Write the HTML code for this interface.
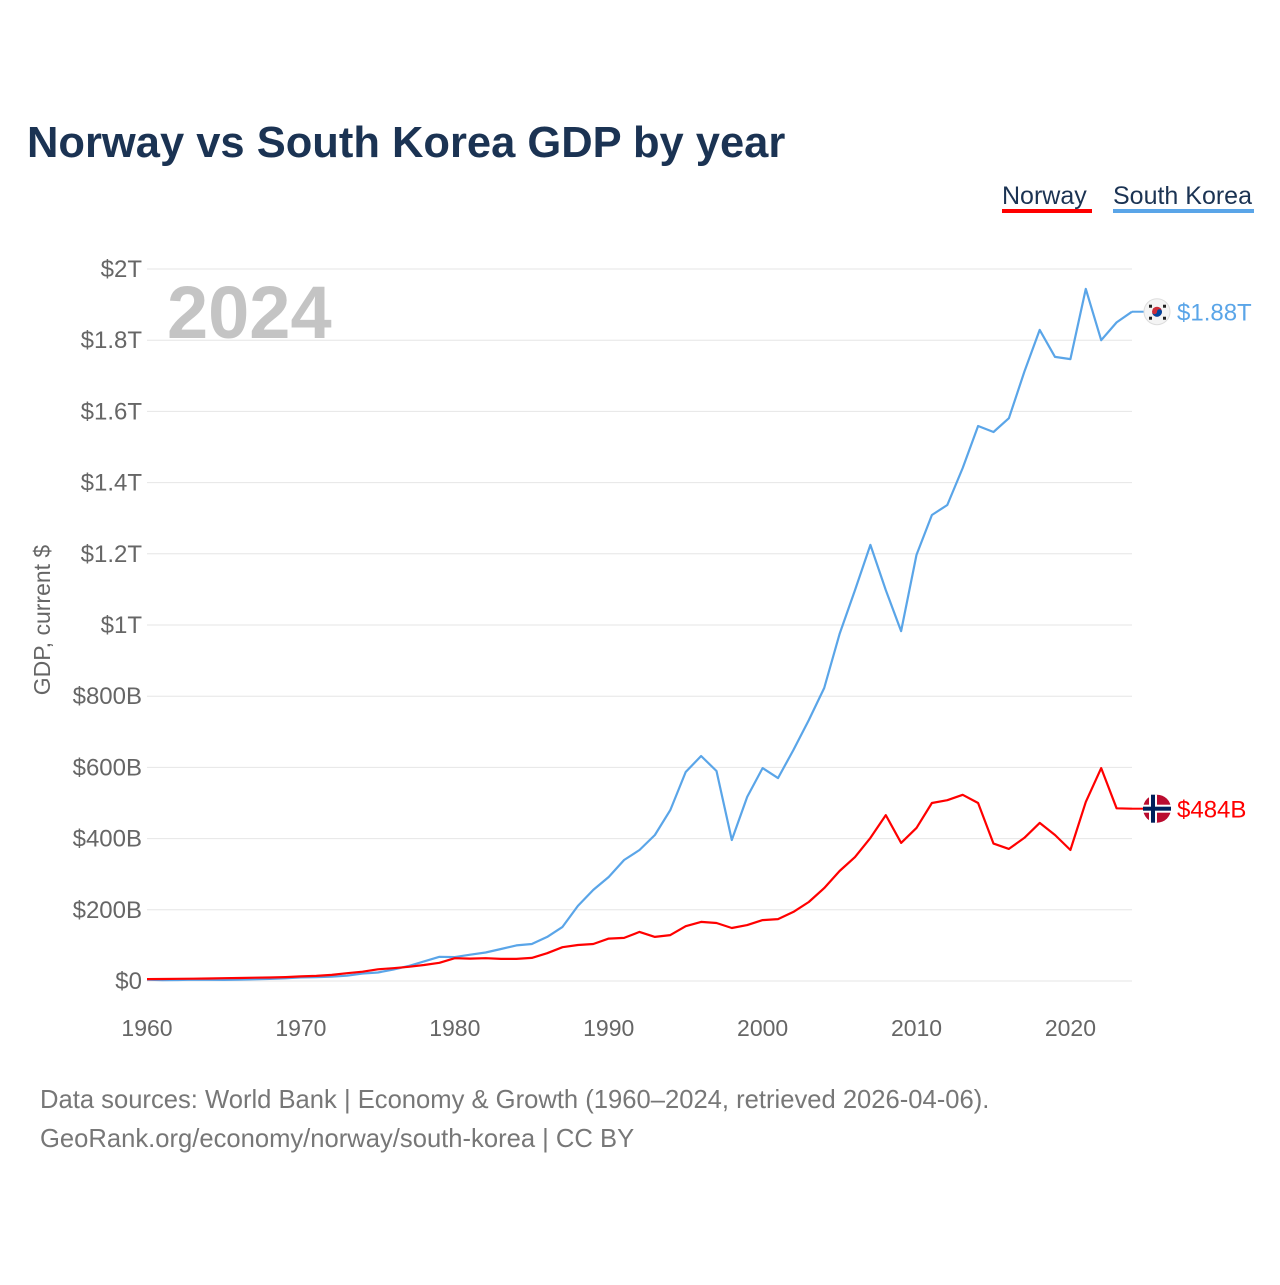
<!DOCTYPE html>
<html><head><meta charset="utf-8"><style>
body{margin:0;background:#fff;width:1280px;height:1280px;overflow:hidden;font-family:"Liberation Sans",sans-serif}
</style></head><body>
<svg id="chart" width="1280" height="1280" xmlns="http://www.w3.org/2000/svg" font-family="Liberation Sans, sans-serif">
<text x="27" y="157" font-size="43.5" font-weight="bold" fill="#1b3353">Norway vs South Korea GDP by year</text>
<g><text x="1002" y="204" font-size="25" fill="#1b3353">Norway</text><rect x="1002" y="209" width="90" height="4" fill="#ff0000"/></g>
<g><text x="1113" y="204" font-size="25" fill="#1b3353">South Korea</text><rect x="1113" y="209" width="141" height="4" fill="#5aa5e8"/></g>
<g id="grid"></g><g id="yticks"></g><g id="xticks"></g>
<text x="167" y="338" font-size="74" font-weight="bold" fill="#c4c4c4">2024</text>
<text transform="translate(50,620) rotate(-90)" text-anchor="middle" font-size="23" fill="#666">GDP, current $</text>
<g id="series"></g>
<text x="40" y="1108" font-size="25.6" fill="#777">Data sources: World Bank | Economy &amp; Growth (1960–2024, retrieved 2026-04-06).</text>
<text x="40" y="1147" font-size="25.6" fill="#777">GeoRank.org/economy/norway/south-korea | CC BY</text>
</svg>
<script>
const years=[];for(let y=1960;y<=2024;y++)years.push(y);
const korea=[4,2.4,2.8,3.9,3.5,3.1,3.8,4.7,6,7.5,10,11,12,15,21,24,32,42,55,68,67,74,80,90,100,104,124,152,211,256,292,340,368,410,480,587,632,590,396,517,598,570,649,733,823,975,1098,1225,1098,983,1197,1309,1337,1441,1559,1542,1581,1711,1829,1753,1747,1944,1800,1850,1880];
const norway=[5.2,5.7,6.1,6.5,7.1,7.8,8.5,9.2,9.9,11,12.9,14.4,17,22,26,33,36,40,45,51,64,63,64,62,62,65,78,95,101,104,119,121,138,124,129,154,166,163,149,157,171,174,194,222,261,309,348,402,466,388,430,500,508,523,500,386,371,402,444,410,368,503,598,485,484];
const yTicks=[0,200,400,600,800,1000,1200,1400,1600,1800,2000];
const yLabels=["$0","$200B","$400B","$600B","$800B","$1T","$1.2T","$1.4T","$1.6T","$1.8T","$2T"];
const xTicks=[1960,1970,1980,1990,2000,2010,2020];
const NS="http://www.w3.org/2000/svg";
const X=y=>147+(y-1960)*(1132-147)/64;
const Y=v=>981-v*(981-269)/2000;
function mk(t,a,p){const e=document.createElementNS(NS,t);for(const k in a)e.setAttribute(k,a[k]);p.appendChild(e);return e;}
const grid=document.getElementById('grid'),yt=document.getElementById('yticks'),xt=document.getElementById('xticks'),ser=document.getElementById('series');
yTicks.forEach((v,i)=>{
 const l=mk('line',{x1:147,x2:1132,y1:Y(v),y2:Y(v),stroke:'#e6e6e6','stroke-width':1},grid);
 
 
 const t=mk('text',{x:142,y:Y(v)+8,'text-anchor':'end','font-size':24,fill:'#666'},yt);
 t.textContent=yLabels[i];
 
 
});
xTicks.forEach(v=>{
 const t=mk('text',{x:X(v),y:1036,'text-anchor':'middle','font-size':23,fill:'#666'},xt);
 t.textContent=v;
 
 
});
function line(data,color,name){
 const d=data.map((v,i)=>(i?'L':'M')+X(years[i]).toFixed(1)+','+Y(v).toFixed(1)).join('');
 const p=mk('path',{d:d,fill:'none',stroke:color,'stroke-width':2.2,'stroke-linejoin':'round'},ser);
 
 
 const last=data[data.length-1];
 const c=mk('line',{x1:X(2024),x2:1145,y1:Y(last),y2:Y(last),stroke:color,'stroke-width':2},ser);
 
 
}
line(korea,'#5aa5e8','korea-line');
line(norway,'#ff0000','norway-line');
const ky=Y(korea[korea.length-1]),ny=Y(norway[norway.length-1]);
const kf=mk('g',{},ser);


mk('circle',{cx:1157,cy:ky,r:13,fill:'#f4f4f4',stroke:'#ddd'},kf);
mk('circle',{cx:1157,cy:ky,r:5,fill:'#cd2e3a'},kf);
mk('path',{d:`M1152,${ky} a5,5 0 0 0 10,0 a2.5,2.5 0 0 0 -5,0 a2.5,2.5 0 0 1 -5,0z`,fill:'#0047a0'},kf);
[[-8,-7],[6,-7],[-8,5],[6,5]].forEach(o=>mk('rect',{x:1157+o[0],y:ky+o[1],width:3,height:3,fill:'#222'},kf));
const kl=mk('text',{x:1177,y:ky+9,'font-size':24,fill:'#5aa5e8'},ser);kl.textContent='$1.88T';


const nf=mk('g',{},ser);


mk('circle',{cx:1157,cy:ny,r:14,fill:'#ba0c2f'},nf);
mk('rect',{x:1143,y:ny-4,width:28,height:8,fill:'#fff'},nf);
mk('rect',{x:1149,y:ny-14,width:8,height:28,fill:'#fff'},nf);
mk('rect',{x:1143,y:ny-2,width:28,height:4,fill:'#00205b'},nf);
mk('rect',{x:1151,y:ny-14,width:4,height:28,fill:'#00205b'},nf);
const nl=mk('text',{x:1177,y:ny+9,'font-size':24,fill:'#ff0000'},ser);nl.textContent='$484B';


</script>
</body></html>
